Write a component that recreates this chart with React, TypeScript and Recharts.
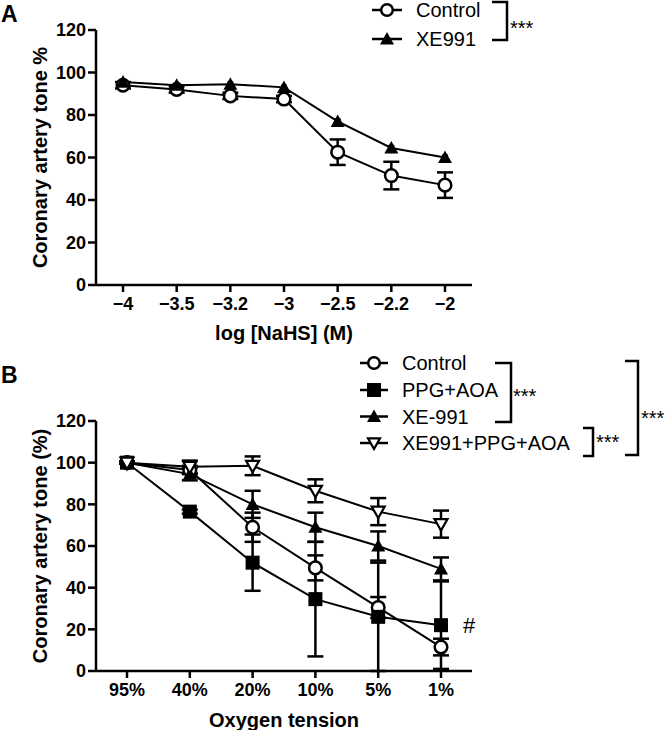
import { LineChart, Line, XAxis, YAxis, ErrorBar, Legend, ReferenceDot, Label } from 'recharts';

const FONT = '"Liberation Sans", Arial, Helvetica, sans-serif';

// Panel A: NaHS concentration-response
const doseLabels = ['−4', '−3.5', '−3.2', '−3', '−2.5', '−2.2', '−2'];
const controlA = [94, 92, 89, 87.5, 62.5, 51.5, 47];
const controlAErr = [1.5, 1.5, 1.5, 1.5, 6, 6.5, 6];
const xe991A = [95.5, 94, 94.5, 93, 77, 64.5, 60];
const xe991AErr = [0.8, 0.8, 0.8, 0.8, 1, 1, 1];

// Panel B: oxygen tension
const oxygenLabels = ['95%', '40%', '20%', '10%', '5%', '1%'];
const controlB = [100, 96.5, 69, 49.5, 30.5, 11.5];
const controlBErr = [0.5, 2, 7, 6, 5, 4];
const ppgAoaB = [100, 76.5, 52, 34.5, 26, 22];
const ppgAoaBErr = [0.5, 1, 13.5, 27.5, 26, 21];
const xe991B = [100, 94.5, 80, 69, 60, 49];
const xe991BErr = [0.5, 3, 6.5, 7, 7, 5.5];
const comboB = [100, 98, 98.5, 86.5, 76.5, 70.5];
const comboBErr = [0.5, 3, 4.5, 5.5, 6.5, 6.5];

const yTicks = [0, 20, 40, 60, 80, 100, 120];

const dataA = doseLabels.map((dose, i) => ({
  dose,
  control: controlA[i],
  controlErr: controlAErr[i],
  xe991: xe991A[i],
  xe991Err: xe991AErr[i],
}));

const dataB = oxygenLabels.map((o2, i) => ({
  o2,
  control: controlB[i],
  controlErr: controlBErr[i],
  ppgAoa: ppgAoaB[i],
  ppgAoaErr: ppgAoaBErr[i],
  xe991: xe991B[i],
  xe991Err: xe991BErr[i],
  combo: comboB[i],
  comboErr: comboBErr[i],
}));

type Shape = 'circle' | 'square' | 'triangle' | 'triangleDown';

const shapeOf: Record<string, Shape> = {
  control: 'circle',
  ppgAoa: 'square',
  xe991: 'triangle',
  combo: 'triangleDown',
};

function Marker({ shape, cx, cy, size = 14 }: { shape: Shape; cx: number; cy: number; size?: number }) {
  const h = size / 2;
  if (shape === 'circle') {
    return <circle cx={cx} cy={cy} r={h - 1.2} fill="#fff" stroke="#000" strokeWidth={2.5} />;
  }
  if (shape === 'square') {
    return <rect x={cx - h} y={cy - h} width={size} height={size} fill="#000" />;
  }
  if (shape === 'triangle') {
    return (
      <polygon
        points={`${cx},${cy - h} ${cx + h},${cy + h * 0.8} ${cx - h},${cy + h * 0.8}`}
        fill="#000"
      />
    );
  }
  return (
    <polygon
      points={`${cx - h + 1},${cy - h * 0.8 + 1} ${cx + h - 1},${cy - h * 0.8 + 1} ${cx},${cy + h - 1}`}
      fill="#fff"
      stroke="#000"
      strokeWidth={2.2}
      strokeLinejoin="miter"
    />
  );
}

const dotFor = (key: string, size: number) => (p: any) => (
  <Marker key={`${key}-${p.index}`} shape={shapeOf[key]} cx={p.cx} cy={p.cy} size={size} />
);

const axisLine = { stroke: '#000', strokeWidth: 2.5 };
const tickStyle = { fill: '#000', fontSize: 18, fontWeight: 'bold', fontFamily: FONT };
const titleStyle = { fill: '#000', fontSize: 20, fontWeight: 'bold', fontFamily: FONT };

const yTitle = (text: string) => (props: any) => {
  const vb = props.viewBox;
  const x = vb.x + 40;
  const y = vb.y + vb.height / 2;
  return (
    <text
      x={x}
      y={y}
      transform={`rotate(-90 ${x} ${y})`}
      textAnchor="middle"
      dominantBaseline="central"
      style={titleStyle}
    >
      {text}
    </text>
  );
};

function LegendA(props: any) {
  const items = props.payload ?? [];
  return (
    <svg width={310} height={60} style={{ overflow: 'visible', fontFamily: FONT }}>
      {items.map((it: any, i: number) => {
        const y = 10 + i * 29;
        return (
          <g key={it.value}>
            <line x1={12} x2={42} y1={y} y2={y} stroke="#000" strokeWidth={2.5} />
            <Marker shape={shapeOf[it.dataKey]} cx={27} cy={y} size={14} />
            <text x={56} y={y} dominantBaseline="central" fontSize={20} fill="#000">
              {it.value}
            </text>
          </g>
        );
      })}
      <path d="M132,2 H147 V40 H132" fill="none" stroke="#000" strokeWidth={2.5} />
      <text x={150} y={35} fontSize={20} fill="#000">***</text>
    </svg>
  );
}

function LegendB(props: any) {
  const items = props.payload ?? [];
  const rows = [18, 45, 71.5, 98];
  return (
    <svg width={320} height={120} style={{ overflow: 'visible', fontFamily: FONT }}>
      {items.map((it: any, i: number) => {
        const y = rows[i];
        return (
          <g key={it.value}>
            <line x1={0} x2={28} y1={y} y2={y} stroke="#000" strokeWidth={2.5} />
            <Marker shape={shapeOf[it.dataKey]} cx={14} cy={y} size={14} />
            <text x={42} y={y} dominantBaseline="central" fontSize={20} fill="#000">
              {it.value}
            </text>
          </g>
        );
      })}
      <path d="M135,18 H151 V77 H135" fill="none" stroke="#000" strokeWidth={2.5} />
      <text x={153} y={58} fontSize={20} fill="#000">***</text>
      <path d="M223,83 H233 V111 H223" fill="none" stroke="#000" strokeWidth={2.5} />
      <text x={236} y={104} fontSize={20} fill="#000">***</text>
      <path d="M265,16 H278 V110 H265" fill="none" stroke="#000" strokeWidth={2.5} />
      <text x={281} y={80} fontSize={20} fill="#000">***</text>
    </svg>
  );
}

const letterStyle = (top: number) => ({
  position: 'absolute' as const,
  left: 1,
  top,
  fontSize: 23,
  fontWeight: 'bold' as const,
  lineHeight: '26px',
  fontFamily: FONT,
});

export default function App() {
  return (
    <div style={{ position: 'absolute', left: 0, top: 0, width: 670, height: 730, background: '#fff', fontFamily: FONT }}>
      <div style={{ position: 'absolute', left: 0, top: 0 }}>
        <LineChart width={670} height={345} data={dataA} margin={{ top: 30, right: 198, bottom: 0, left: 0 }}>
          <XAxis
            dataKey="dose"
            interval={0}
            padding={{ left: 27, right: 27 }}
            height={60}
            tickSize={7}
            tickMargin={5}
            axisLine={axisLine}
            tickLine={axisLine}
            tick={tickStyle}
          >
            <Label value="log [NaHS] (M)" position="insideBottom" offset={5} style={titleStyle} />
          </XAxis>
          <YAxis
            domain={[0, 120]}
            ticks={yTicks}
            width={96}
            tickSize={8}
            tickMargin={2}
            axisLine={axisLine}
            tickLine={axisLine}
            tick={tickStyle}
          >
            <Label content={yTitle('Coronary artery tone %')} />
          </YAxis>
          <Legend
            layout="horizontal"
            verticalAlign="middle"
            align="center"
            wrapperStyle={{ left: 360, top: 0, width: 310, height: 60 }}
            content={(p: any) => <LegendA {...p} />}
          />
          <Line
            dataKey="control"
            name="Control"
            stroke="#000"
            strokeWidth={2}
            dot={dotFor('control', 15)}
            activeDot={false}
            isAnimationActive={false}
          >
            <ErrorBar dataKey="controlErr" direction="y" width={8} stroke="#000" strokeWidth={2.5} />
          </Line>
          <Line
            dataKey="xe991"
            name="XE991"
            stroke="#000"
            strokeWidth={2}
            dot={dotFor('xe991', 14)}
            activeDot={false}
            isAnimationActive={false}
          >
            <ErrorBar dataKey="xe991Err" direction="y" width={3} stroke="#000" strokeWidth={2} />
          </Line>
        </LineChart>
      </div>

      <div style={{ position: 'absolute', left: 0, top: 345 }}>
        <LineChart width={670} height={385} data={dataB} margin={{ top: 76, right: 198, bottom: 0, left: 0 }}>
          <XAxis
            dataKey="o2"
            interval={0}
            padding={{ left: 31, right: 31 }}
            height={59}
            tickSize={7}
            tickMargin={5}
            axisLine={axisLine}
            tickLine={axisLine}
            tick={tickStyle}
          >
            <Label value="Oxygen tension" position="insideBottom" offset={3} style={titleStyle} />
          </XAxis>
          <YAxis
            domain={[0, 120]}
            ticks={yTicks}
            width={96}
            tickSize={8}
            tickMargin={2}
            axisLine={axisLine}
            tickLine={axisLine}
            tick={tickStyle}
          >
            <Label content={yTitle('Coronary artery tone (%)')} />
          </YAxis>
          <Legend
            layout="horizontal"
            verticalAlign="middle"
            align="center"
            wrapperStyle={{ left: 360, top: 0, width: 310, height: 120 }}
            content={(p: any) => <LegendB {...p} />}
          />
          <Line
            dataKey="control"
            name="Control"
            stroke="#000"
            strokeWidth={2}
            dot={dotFor('control', 15)}
            activeDot={false}
            isAnimationActive={false}
          >
            <ErrorBar dataKey="controlErr" direction="y" width={8} stroke="#000" strokeWidth={2.5} />
          </Line>
          <Line
            dataKey="ppgAoa"
            name="PPG+AOA"
            stroke="#000"
            strokeWidth={2}
            dot={dotFor('ppgAoa', 14)}
            activeDot={false}
            isAnimationActive={false}
          >
            <ErrorBar dataKey="ppgAoaErr" direction="y" width={8} stroke="#000" strokeWidth={2.5} />
          </Line>
          <Line
            dataKey="xe991"
            name="XE-991"
            stroke="#000"
            strokeWidth={2}
            dot={dotFor('xe991', 14)}
            activeDot={false}
            isAnimationActive={false}
          >
            <ErrorBar dataKey="xe991Err" direction="y" width={8} stroke="#000" strokeWidth={2.5} />
          </Line>
          <Line
            dataKey="combo"
            name="XE991+PPG+AOA"
            stroke="#000"
            strokeWidth={2}
            dot={dotFor('combo', 15)}
            activeDot={false}
            isAnimationActive={false}
          >
            <ErrorBar dataKey="comboErr" direction="y" width={8} stroke="#000" strokeWidth={2.5} />
          </Line>
          <ReferenceDot
            x={oxygenLabels[5]}
            y={ppgAoaB[5]}
            r={1}
            fill="none"
            stroke="none"
            label={{ value: '#', position: 'right', offset: 21, fontSize: 22, fill: '#000', fontFamily: FONT }}
          />
        </LineChart>
      </div>

      <div style={letterStyle(1)}>A</div>
      <div style={letterStyle(362)}>B</div>
    </div>
  );
}
